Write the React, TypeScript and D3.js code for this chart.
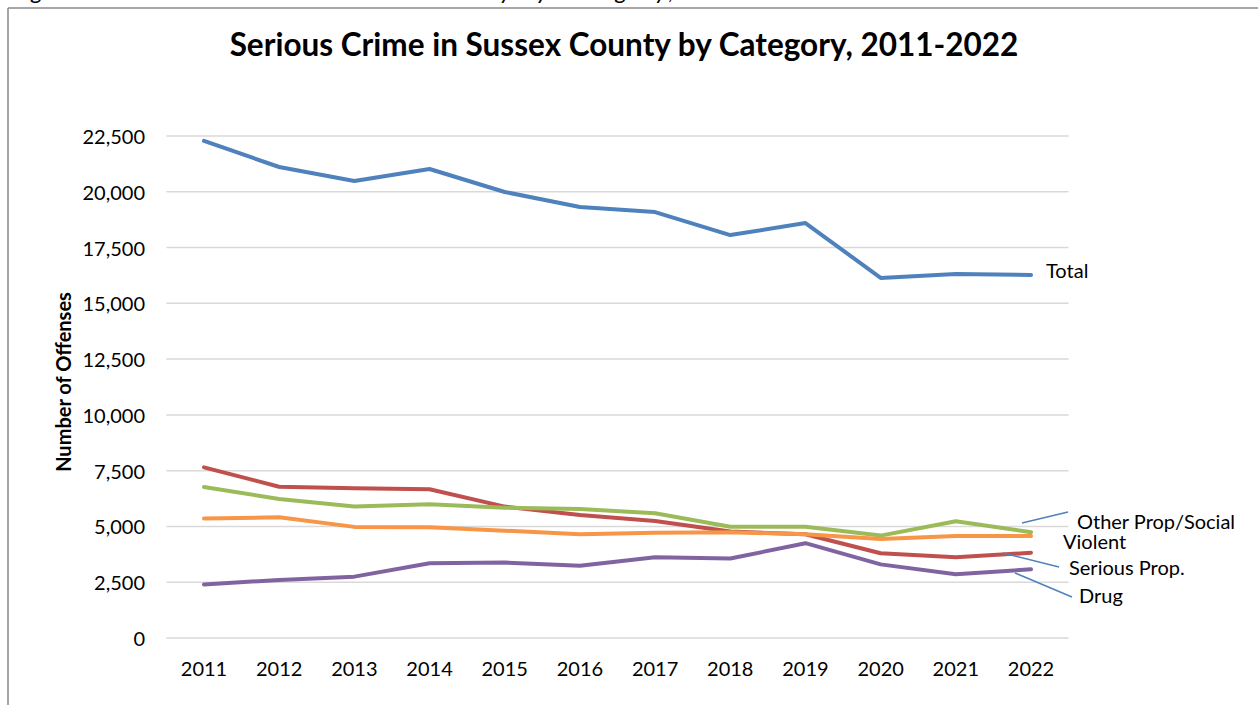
import React from "react";
import * as d3 from "d3";

const years = ["2011","2012","2013","2014","2015","2016","2017","2018","2019","2020","2021","2022"];
const total = [22280,21110,20480,21020,19990,19320,19090,18060,18600,16140,16320,16270];
const seriousProp = [7650,6780,6710,6670,5890,5510,5240,4770,4650,3800,3620,3820];
const otherPropSocial = [6770,6230,5890,5990,5840,5780,5590,4990,4990,4590,5230,4740];
const violent = [5360,5410,4980,4960,4810,4650,4720,4740,4650,4440,4570,4570];
const drug = [2400,2600,2750,3350,3380,3240,3620,3560,4250,3300,2860,3080];
const yTicks = [0,2500,5000,7500,10000,12500,15000,17500,20000,22500];

const seriesList = [
  { name: "Total", values: total, color: "#4F81BD" },
  { name: "Serious Prop.", values: seriousProp, color: "#C0504D" },
  { name: "Other Prop/Social", values: otherPropSocial, color: "#9BBB59" },
  { name: "Violent", values: violent, color: "#F79646" },
  { name: "Drug", values: drug, color: "#8064A2" },
];

const W = 1258, H = 705;
const FONT = "Lato, 'Open Sans', sans-serif";

export default function App() {
  const x = d3.scaleBand<string>().domain(years).range([166.4, 1068.6]).padding(0);
  const y = d3.scaleLinear().domain([0, 22500]).range([638, 136]);
  const cx = (yr: string) => (x(yr) as number) + x.bandwidth() / 2;
  const line = d3.line<number>().x((_, i) => cx(years[i])).y(v => y(v));
  const fmt = d3.format(",");
  const lastX = cx(years[years.length - 1]);
  const lastIdx = years.length - 1;

  const labels = [
    { name: "Total", tx: lastX + 15, ty: y(total[lastIdx]) - 5, lead: null as null | number[] },
    { name: "Other Prop/Social", tx: 1077, ty: 521, lead: [1022, 523, 1068, 512] },
    { name: "Violent", tx: 1063, ty: 541, lead: null },
    { name: "Serious Prop.", tx: 1069, ty: 567, lead: [1003, 553, 1059, 567] },
    { name: "Drug", tx: 1079, ty: 595, lead: [1015, 573, 1072, 597] },
  ];

  return (
    <svg width={W} height={H} style={{ position: "absolute", left: 0, top: 0, background: "#fff" }}>
      <rect x={0} y={0} width={W} height={H} fill="#fff" />
      <text x={8} y={-1} fontFamily={FONT} fontStyle="italic" fontSize={24} textLength={817} lengthAdjust="spacing" fill="#000">
        Figure 2. Serious Crime in Sussex County by Category, 2011-2022
      </text>
      <line x1={8} y1={8} x2={W} y2={8} stroke="#888" strokeWidth={1.5} />
      <line x1={8} y1={8} x2={8} y2={H} stroke="#888" strokeWidth={1.5} />
      <text x={624} y={44} textAnchor="middle" dominantBaseline="central" fontFamily={FONT} fontWeight="bold" fontSize={31.5} fill="#000">
        Serious Crime in Sussex County by Category, 2011-2022
      </text>
      {yTicks.map(t => (
        <g key={t}>
          <line x1={166.4} x2={1068.6} y1={y(t)} y2={y(t)} stroke="#D9D9D9" strokeWidth={1.5} />
          <text x={145} y={y(t)} textAnchor="end" dominantBaseline="central" fontFamily={FONT} fontSize={20} fill="#000">{fmt(t)}</text>
        </g>
      ))}
      {years.map(yr => (
        <text key={yr} x={cx(yr)} y={668} textAnchor="middle" dominantBaseline="central" fontFamily={FONT} fontSize={20} fill="#000">{yr}</text>
      ))}
      <text transform={`translate(63,382) rotate(-90)`} textAnchor="middle" dominantBaseline="central" fontFamily={FONT} fontWeight="bold" fontSize={20} fill="#000">
        Number of Offenses
      </text>
      {seriesList.slice(1).concat(seriesList.slice(0, 1)).map(s => (
        <path key={s.name} d={line(s.values) || ""} fill="none" stroke={s.color} strokeWidth={4} strokeLinejoin="round" strokeLinecap="round" />
      ))}
      {labels.map(l => (
        <g key={l.name}>
          {l.lead && <line x1={l.lead[0]} y1={l.lead[1]} x2={l.lead[2]} y2={l.lead[3]} stroke="#4F81BD" strokeWidth={1.5} />}
          <text x={l.tx} y={l.ty} dominantBaseline="central" fontFamily={FONT} fontSize={20} fill="#000">{l.name}</text>
        </g>
      ))}
    </svg>
  );
}
